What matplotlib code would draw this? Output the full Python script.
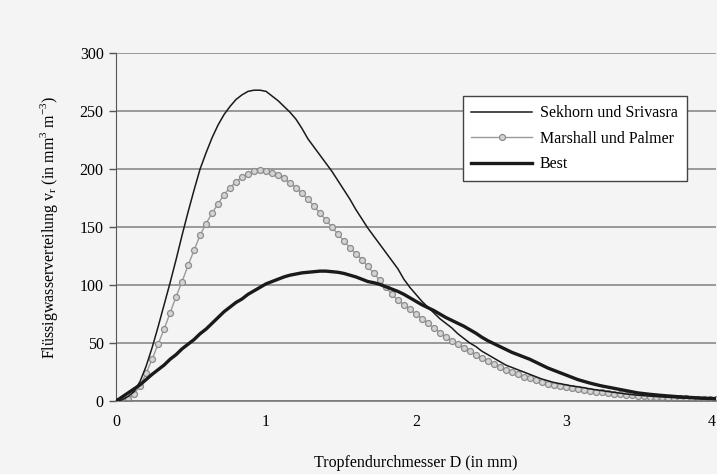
import numpy as np
import matplotlib
matplotlib.use("Agg")
import matplotlib.pyplot as plt

plt.rcParams['font.family'] = ['Liberation Serif', 'DejaVu Serif']
plt.rcParams['mathtext.fontset'] = 'custom'
plt.rcParams['mathtext.rm'] = 'Liberation Serif'

# drop diameter grid (mm), one point every 0.04 mm
diameter = np.round(np.arange(0, 4.001, 0.04), 2)

# Sekhorn und Srivasra
sekhorn = [0, 1, 4, 8, 17, 30, 46, 64, 83, 102,
           122, 143, 163, 182, 200, 214, 227, 238, 247, 254,
           260, 264, 267, 268, 268, 267, 263, 259, 254, 249,
           243, 235, 226, 219, 212, 205, 198, 190, 182, 174,
           165, 157, 149, 142, 135, 128, 121, 114, 105, 98,
           92, 86, 81, 76, 71, 67, 63, 58, 54, 50,
           47, 43, 40, 37, 34, 31, 29, 27, 25, 23,
           21, 19, 17.5, 16, 15, 14, 13, 12.3, 11.5, 10.5,
           9.7, 9, 8.2, 7.5, 6.8, 6.1, 5.5, 5, 4.6, 4.2,
           3.8, 3.5, 3.2, 2.9, 2.6, 2.4, 2.2, 2, 1.8, 1.6,
           1.5]

# Marshall und Palmer
marshall = [0, 0.5, 2, 6, 13, 24, 36, 49, 62, 76,
            90, 103, 117, 130, 143, 153, 162, 170, 178, 184,
            189, 193, 196, 198, 199, 198.5, 197, 195, 192, 188,
            184, 179, 174, 168, 162, 156, 150, 144, 138, 132,
            127, 122, 116, 110, 104, 98, 92, 87, 83, 79,
            75, 71, 67, 63, 59, 55, 52, 49, 46, 43,
            40, 37, 34.5, 32, 29.5, 27, 25, 23, 21, 19.5,
            18, 16.5, 15, 14, 13, 12, 11, 10, 9.3, 8.6,
            8, 7.4, 6.8, 6.3, 5.8, 5.3, 4.9, 4.5, 4.1, 3.8,
            3.5, 3.2, 2.9, 2.7, 2.5, 2.3, 2.1, 1.9, 1.7, 1.6,
            1.4]

# Best
best = [0, 3.5, 7, 10.5, 14, 18.5, 23, 27, 31, 36,
        40, 45, 49, 53, 58, 62, 67, 72, 77, 81,
        85, 88, 92, 95, 98, 101, 103, 105, 107, 108.5,
        109.5, 110.5, 111, 111.5, 112, 112, 111.5, 111, 110, 108.5,
        107, 105, 103, 102, 100.5, 98.5, 96.5, 94.5, 92, 89,
        86, 83, 80.5, 78, 75, 72, 69.5, 67, 64.5, 61.5,
        58.5, 55, 52, 49.5, 47, 44.5, 42, 40, 38, 36,
        33.5, 31, 28.5, 26.5, 24.5, 22.5, 20.5, 18.5, 17, 15.5,
        14.2, 13, 12, 11, 10, 9, 8, 7, 6.4, 5.8,
        5.3, 4.8, 4.4, 4, 3.6, 3.3, 3, 2.7, 2.4, 2.2,
        2]

y_ticks = [0, 50, 100, 150, 200, 250, 300]
x_ticks = [0, 1, 2, 3, 4]

bg = '#f4f4f4'
fig = plt.figure(figsize=(7.17, 4.74), dpi=100, facecolor=bg)
ax = fig.add_axes([0.162, 0.154, 0.836, 0.734], facecolor=bg)

for y in y_ticks:
    ax.axhline(y, color='#8a8a8a', lw=1.2, zorder=1)

ax.plot(diameter, sekhorn, color='#1a1a1a', lw=1.1, zorder=3,
        label='Sekhorn und Srivasra')
ax.plot(diameter, marshall, color='#9a9a9a', lw=1.0, marker='o', ms=4.3,
        mfc='#d4d4d4', mec='#8c8c8c', mew=0.9, zorder=2,
        label='Marshall und Palmer')
ax.plot(diameter, best, color='#1a1a1a', lw=2.4, zorder=3, label='Best')

ax.set_xlim(0, 4)
ax.set_ylim(0, 300)
ax.set_xticks(x_ticks)
ax.set_yticks(y_ticks)
ax.tick_params(axis='y', direction='out', length=5, width=1, color='#555555',
               labelsize=11.5, pad=4)
ax.tick_params(axis='x', length=0, labelsize=11.5, pad=9)
# last label sits on the right edge, keep it inside the picture
ax.get_xticklabels()[-1].set_horizontalalignment('right')

for side in ['top', 'right']:
    ax.spines[side].set_visible(False)
ax.spines['left'].set_color('#555555')
ax.spines['bottom'].set_color('#777777')
ax.spines['bottom'].set_linewidth(1.2)

ax.set_xlabel('Tropfendurchmesser D (in mm)', fontsize=11.5, labelpad=18)
ax.set_ylabel(r'Flüssigwasserverteilung v$_\mathregular{r}$ (in mm$^\mathregular{3}$ m$^\mathregular{-3}$)',
              fontsize=11.5, labelpad=14)

leg = ax.legend(loc='lower left', bbox_to_anchor=(0.578, 0.632), borderaxespad=0,
                fontsize=11.5, frameon=True, fancybox=False, edgecolor='#444444',
                handlelength=3.8, handletextpad=0.5, borderpad=0.55,
                labelspacing=0.6)
leg.get_frame().set_facecolor('white')
leg.get_frame().set_linewidth(1.0)
leg.get_frame().set_alpha(1)

fig.savefig('out.png', dpi=100, facecolor=bg)
